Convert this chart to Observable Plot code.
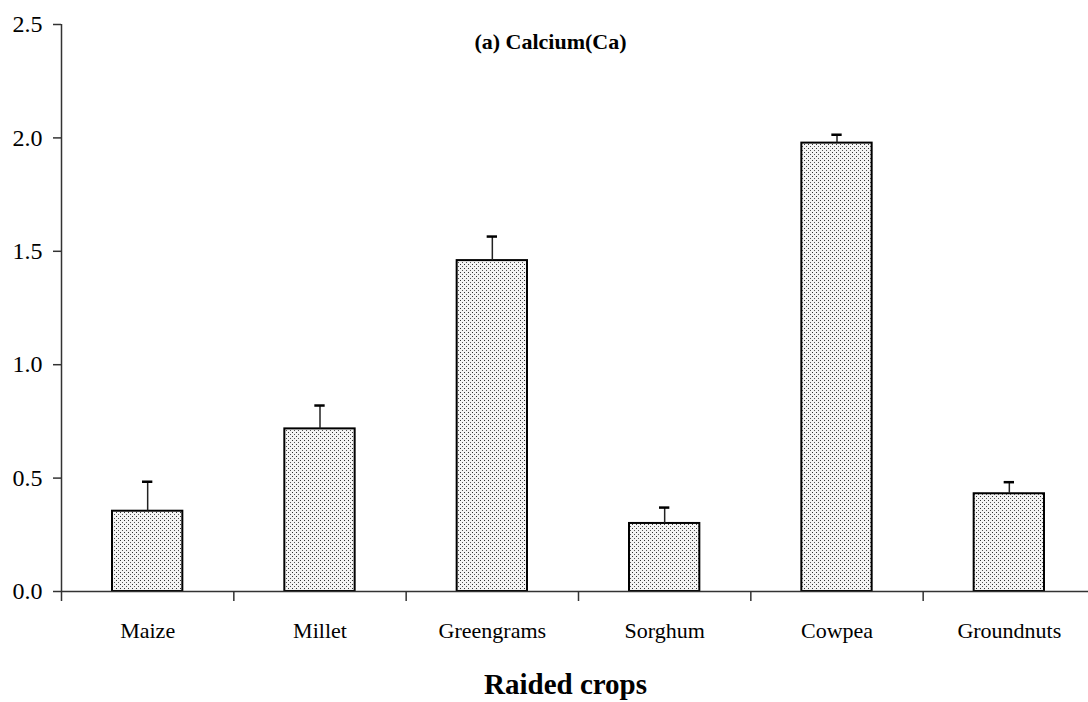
<!DOCTYPE html>
<html>
<head>
<meta charset="utf-8">
<script src="https://cdn.jsdelivr.net/npm/d3@7"></script>
<script src="https://cdn.jsdelivr.net/npm/@observablehq/plot@0.6"></script>
<style>
  html, body { margin: 0; padding: 0; background: #fff; }
</style>
</head>
<body>
<div id="chart"></div>
<script>
const crops = ["Maize", "Millet", "Greengrams", "Sorghum", "Cowpea", "Groundnuts"];
const means = [0.354, 0.717, 1.459, 0.30, 1.977, 0.431];
const upper = [0.484, 0.82, 1.565, 0.37, 2.014, 0.482];
const yTicks = [0, 0.5, 1.0, 1.5, 2.0, 2.5];
const boundaries = [0, 1, 2, 3, 4, 5, 6];
const title = "(a) Calcium(Ca)";
const xTitle = "Raided crops";

const data = crops.map((crop, i) => ({crop, i, mean: means[i], upper: upper[i]}));

const chart = Plot.plot({
  width: 1088,
  height: 702,
  marginLeft: 61,
  marginRight: -7,
  marginTop: 24,
  marginBottom: 111,
  style: {fontFamily: "'Liberation Serif', 'Times New Roman', serif", background: "#fff", color: "#000", overflow: "hidden"},
  x: {domain: [0, 6], axis: null, label: null},
  y: {domain: [0, 2.5], axis: null, label: null},
  marks: [
    Plot.rectY(data, {
      x1: "i", x2: d => d.i + 1, y: "mean",
      insetLeft: 51, insetRight: 51,
      fill: "url(#dots)", stroke: "#000", strokeWidth: 2
    }),
    Plot.ruleX(data, {x: d => d.i + 0.5, y1: "mean", y2: "upper", stroke: "#222", strokeWidth: 1.5}),
    Plot.ruleY(data, {y: "upper", x1: "i", x2: d => d.i + 1, insetLeft: 81, insetRight: 81, stroke: "#000", strokeWidth: 2.5}),
    Plot.ruleX([0], {stroke: "#333", strokeWidth: 1.5}),
    Plot.ruleY([0], {stroke: "#333", strokeWidth: 1.5}),
    Plot.axisY(yTicks, {
      label: null,
      tickSize: 8, tickPadding: 11, tickFormat: d3.format(".1f"),
      fontSize: 24, stroke: "#333", strokeWidth: 1.5, fill: "#000"
    }),
    Plot.axisX(boundaries, {label: null, tickSize: 10, tickFormat: () => "", stroke: "#333", strokeWidth: 1.5}),
    Plot.text(data, {
      x: d => d.i + 0.5, y: 0, text: "crop",
      dy: 31, lineAnchor: "top", fontSize: 22, fill: "#000"
    }),
    Plot.text([xTitle], {
      frameAnchor: "bottom", dy: 93, dx: -13, lineAnchor: "middle",
      fontSize: 29, fontWeight: "bold", fill: "#000"
    }),
    Plot.text([title], {
      frameAnchor: "top", dy: 17, dx: -28, lineAnchor: "middle",
      fontSize: 22, fontWeight: "bold", fill: "#000"
    })
  ]
});

chart.insertAdjacentHTML("afterbegin",
  `<defs><pattern id="dots" width="4" height="4" patternUnits="userSpaceOnUse">
     <rect width="4" height="4" fill="#f4f4f4"/>
     <rect x="0" y="0" width="1" height="1" fill="#333"/>
     <rect x="2" y="2" width="1" height="1" fill="#555"/>
   </pattern></defs>`);

document.getElementById("chart").appendChild(chart);
</script>
</body>
</html>
